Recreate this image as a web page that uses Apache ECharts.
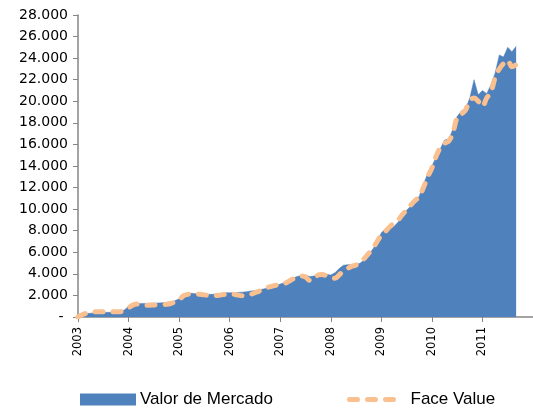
<!DOCTYPE html>
<html>
<head>
<meta charset="utf-8">
<script src="https://cdn.jsdelivr.net/npm/echarts@6/dist/echarts.min.js"></script>
<style>html,body{margin:0;padding:0;background:#fff}#c{width:533px;height:408px}</style>
</head>
<body>
<div id="c"></div>
<script>
// Year tick labels (one per January)
var years = ['2003','2004','2005','2006','2007','2008','2009','2010','2011','2012'];
// Monthly categories, Jan 2003 .. Jan 2012
var months = [];
for (var yi = 0; yi < years.length; yi++) {
  for (var mo = 1; mo <= 12; mo++) {
    if (yi === years.length - 1 && mo > 1) break;
    months.push(years[yi] + '-' + (mo < 10 ? '0' + mo : mo));
  }
}
// Valor de Mercado (area), Jan 2003 .. Sep 2011
var valorMercado = [
  150,250,320,350,380,400,420,430,440,450,460,650,
  1000,1180,1230,1250,1260,1270,1280,1300,1320,1340,1400,1500,
  1700,2000,2200,2200,2150,2130,2120,2100,2100,2150,2200,2250,
  2250,2250,2280,2300,2350,2400,2450,2500,2600,2700,2800,2950,
  3050,3200,3400,3600,3750,3850,3900,3750,3800,3950,4000,3950,
  3900,4100,4500,4800,4850,4850,4850,5000,5300,5800,6300,7000,
  7800,8200,8350,8400,8800,9400,9900,10300,10700,11200,12300,13300,
  14000,14800,15600,16400,16500,17400,18600,19100,19300,20300,22000,20600,
  21000,20700,21500,22600,24300,24100,25000,24600,25100
];
// Face Value (dashed line), Jan 2003 .. Sep 2011
var faceValue = [
  0,200,350,430,480,490,490,490,490,490,490,600,
  850,1100,1200,1120,1100,1100,1110,1120,1150,1180,1250,1400,
  1600,1950,2100,2130,2130,2100,2050,2000,1950,2000,2050,2100,
  2130,2100,2030,1970,2000,2100,2250,2400,2600,2750,2850,2950,
  2970,3100,3300,3520,3650,3800,3700,3400,3500,3900,3950,3800,
  3650,3590,3900,4300,4500,4700,4820,5100,5440,5900,6370,7000,
  7600,7950,8370,8700,8990,9500,9920,10380,10800,11150,12000,13000,
  13800,14900,15700,16100,16300,17100,18500,18800,19200,20100,20300,20000,
  19500,20300,20800,22200,23000,23500,23800,23200,23400
];

var chart = echarts.init(document.getElementById('c'), null, {renderer: 'canvas'});
var axisGray = '#868686';
var faceStyle = {width: 5, color: '#FAC090', type: [8, 10], cap: 'round'};
chart.setOption({
  animation: false,
  backgroundColor: '#ffffff',
  grid: {left: 78, right: 0, top: 15, bottom: 91, containLabel: false},
  xAxis: {
    type: 'category',
    data: months,
    boundaryGap: false,
    axisLine: {lineStyle: {color: axisGray, width: 1.5}},
    axisTick: {
      show: true, length: 5, lineStyle: {color: axisGray},
      interval: function (i) { return i % 12 === 0; }
    },
    axisLabel: {
      rotate: 90, margin: 10,
      fontFamily: 'DejaVu Sans', fontSize: 11.5, color: '#000',
      interval: function (i, v) { return i % 12 === 0 && i < months.length - 1; },
      formatter: function (v) { return v.slice(0, 4); }
    },
    splitLine: {show: false}
  },
  yAxis: {
    type: 'value',
    min: 0, max: 28000, interval: 2000,
    axisLine: {show: true, lineStyle: {color: axisGray, width: 1.5}},
    axisTick: {show: true, length: 5, lineStyle: {color: axisGray}},
    axisLabel: {
      margin: 10, fontFamily: 'DejaVu Sans', fontSize: 14, color: '#000',
      formatter: function (v) { return v === 0 ? '- ' : (v / 1000) + '.000'; }
    },
    splitLine: {show: false}
  },
  legend: [
    {
      left: 80, top: 391, padding: 0, itemWidth: 56, itemHeight: 12, itemGap: 0,
      textStyle: {fontFamily: 'Liberation Sans', fontSize: 17, color: '#000', padding: [0,0,0,-1]},
      data: [{name: 'Valor de Mercado', icon: 'rect'}]
    },
    {
      left: 347, top: 391, padding: 0, itemWidth: 51, itemHeight: 12, itemGap: 0,
      textStyle: {fontFamily: 'Liberation Sans', fontSize: 17, color: '#000', padding: [0,0,0,5]},
      data: [{name: 'Face Value', itemStyle: {opacity: 0}, lineStyle: faceStyle}]
    }
  ],
  series: [
    {
      name: 'Valor de Mercado',
      type: 'line',
      data: valorMercado,
      symbol: 'none',
      lineStyle: {width: 0.5, color: '#4F81BD'},
      itemStyle: {color: '#4F81BD'},
      areaStyle: {color: '#4F81BD', opacity: 1},
      z: 1
    },
    {
      name: 'Face Value',
      type: 'line',
      data: faceValue,
      symbol: 'none',
      smooth: 0.3,
      lineStyle: faceStyle,
      itemStyle: {color: '#FAC090'},
      z: 2
    }
  ]
});
</script>
</body>
</html>
